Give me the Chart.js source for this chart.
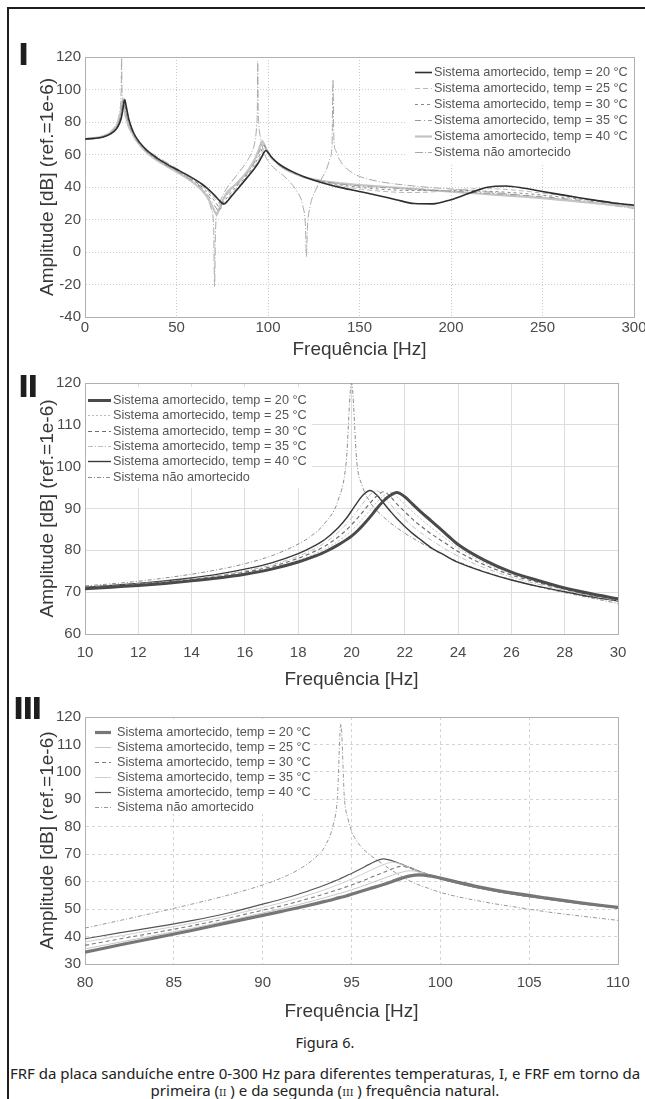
<!DOCTYPE html>
<html lang="pt">
<head>
<meta charset="utf-8">
<title>Figura 6</title>
<script src="https://cdn.jsdelivr.net/npm/chart.js@4.4.1/dist/chart.umd.min.js"></script>
<style>
  html, body { margin: 0; padding: 0; background: #fff; }
  body { position: relative; width: 645px; height: 1099px; overflow: hidden; }
  .frame { position: absolute; left: 7px; top: 7px; width: 700px; height: 1200px;
           border-left: 2px solid #1e1e1e; border-top: 2px solid #1e1e1e; }
  canvas { position: absolute; left: 0; }
  #cI { top: 0; }
  #cII { top: 365px; }
  #cIII { top: 695px; }
  .roman { position: absolute; font: bold 30px "DejaVu Sans", sans-serif; color: #1e1e1e;
           line-height: 30px; letter-spacing: -2px; }
  .cap { position: absolute; left: 0; width: 650px; text-align: center; white-space: nowrap;
         font-family: "Noto Sans", sans-serif; color: #222; }
  .rn { font-family: "DejaVu Serif", serif; font-size: 9.5px; }
</style>
</head>
<body>
<div class="frame"></div>
<canvas id="cI" width="645" height="365"></canvas>
<canvas id="cII" width="645" height="330"></canvas>
<canvas id="cIII" width="645" height="330"></canvas>
<div class="roman" style="left:18px;top:40px">I</div>
<div class="roman" style="left:18px;top:372px">II</div>
<div class="roman" style="left:13px;top:694px">III</div>
<div class="cap" style="top:1032px;font-size:14.5px">Figura 6.</div>
<div class="cap" style="top:1065px;font-size:15px;line-height:17px">FRF da placa sanduíche entre 0-300 Hz para diferentes temperaturas, I, e FRF em torno da<br>primeira (<span class="rn">II</span> ) e da segunda (<span class="rn">III</span> ) frequência natural.</div>

<script>
// values: frequency [Hz], amplitude [dB]
const legendLabels = [
  'Sistema amortecido, temp = 20 °C',
  'Sistema amortecido, temp = 25 °C',
  'Sistema amortecido, temp = 30 °C',
  'Sistema amortecido, temp = 35 °C',
  'Sistema amortecido, temp = 40 °C',
  'Sistema não amortecido'
];

// I : 0-300 Hz
const freqI = [0, 5, 10, 14, 17, 19, 20, 20.7, 21.2, 21.7, 22.5, 24, 26, 28, 32, 36, 40, 45, 50, 55, 60, 64, 67, 70, 72, 73, 74, 75, 76, 78,
  80, 84, 88, 91, 93, 95, 96, 96.8, 97.8, 98.8, 100, 102, 105, 108, 113, 120, 130, 140, 150, 160, 170, 180, 190, 200, 210, 220, 230, 240,
  250, 260, 270, 280, 290, 300];
const ampI_20 = [69.5, 69.9, 70.8, 72.7, 75.5, 79.6, 83.4, 88.0, 91.8, 93.8, 89.7, 81.4, 74.8, 70.4, 64.6, 60.5, 57.3, 53.9, 50.9, 47.9,
  44.7, 41.7, 39.0, 35.8, 33.4, 32.2, 31.0, 30.0, 29.5, 31.5, 34.3, 39.6, 45.0, 49.1, 52.0, 55.4, 57.4, 59.0, 61.2, 62.5, 61.3, 58.3, 55.0,
  52.6, 49.6, 46.2, 42.5, 39.6, 37.2, 34.8, 32.2, 29.8, 29.6, 32.2, 36.2, 39.8, 40.6, 39.2, 37.2, 35.3, 33.4, 31.6, 30.0, 28.8];
const ampI_25 = [69.5, 69.9, 70.9, 72.8, 75.8, 80.3, 84.7, 89.6, 93.0, 92.8, 88.0, 80.6, 74.5, 70.1, 64.3, 60.2, 57.0, 53.6, 50.5, 47.4,
  44.0, 40.8, 37.8, 34.2, 31.6, 30.3, 29.0, 28.2, 29.5, 32.5, 35.5, 40.5, 45.7, 50.1, 53.3, 57.0, 59.3, 61.2, 63.4, 63.5, 61.3, 58.2, 55.0,
  52.4, 49.3, 46.0, 42.8, 40.5, 38.8, 37.6, 36.8, 36.6, 37.0, 38.0, 38.8, 39.0, 38.5, 37.5, 36.2, 34.8, 33.3, 31.8, 30.3, 28.9];
const ampI_30 = [69.5, 70.0, 71.0, 73.0, 76.1, 81.0, 86.1, 91.3, 94.0, 91.1, 86.6, 79.7, 74.1, 69.8, 64.0, 59.9, 56.7, 53.3, 50.2, 47.0,
  43.5, 40.0, 36.8, 32.6, 29.4, 27.6, 26.5, 28.5, 30.8, 34.0, 36.8, 41.5, 46.6, 51.1, 54.6, 58.8, 61.3, 63.4, 65.6, 63.8, 61.3, 58.1, 54.9,
  52.3, 49.2, 46.0, 43.2, 41.2, 39.8, 38.8, 38.1, 37.8, 37.8, 37.9, 37.8, 37.4, 36.8, 36.0, 35.0, 33.8, 32.6, 31.3, 30.0, 28.7];
const ampI_35 = [69.6, 70.0, 71.1, 73.2, 76.5, 81.8, 87.7, 93.3, 93.0, 89.3, 85.0, 78.6, 73.6, 69.3, 63.6, 59.6, 56.4, 53.0, 49.8, 46.5,
  42.8, 39.0, 35.3, 30.0, 26.5, 25.0, 27.0, 29.8, 32.3, 35.8, 38.0, 42.5, 47.5, 52.2, 56.0, 60.9, 63.9, 66.2, 66.3, 63.8, 61.2, 58.0, 54.9,
  52.2, 49.1, 46.0, 43.5, 41.8, 40.6, 39.8, 39.2, 38.6, 38.0, 37.4, 36.8, 36.2, 35.5, 34.8, 34.0, 33.0, 31.9, 30.8, 29.6, 28.4];
const ampI_40 = [69.6, 70.1, 71.2, 73.4, 77.0, 82.6, 89.4, 94.3, 91.3, 87.6, 83.2, 77.1, 72.9, 68.8, 63.2, 59.2, 56.0, 52.6, 49.4, 46.0,
  42.0, 37.8, 33.5, 27.0, 23.0, 25.5, 28.5, 31.2, 33.6, 37.3, 39.2, 43.5, 48.5, 53.5, 57.6, 63.0, 66.3, 68.3, 66.4, 63.8, 61.1, 57.9, 54.8,
  52.0, 49.0, 45.9, 43.6, 42.2, 41.2, 40.4, 39.6, 38.8, 38.0, 37.2, 36.4, 35.6, 34.8, 34.0, 33.1, 32.1, 31.0, 29.9, 28.8, 27.8];
const freqI_und = [0, 5, 10, 14, 17, 18.5, 19.5, 19.8, 20, 20.2, 20.5, 21, 22, 24, 27, 30, 35, 40, 45, 50, 55, 60, 64, 67, 69, 70.3, 70.8,
  71.3, 72.5, 74, 77, 80, 84, 88, 91, 93, 93.8, 94.2, 94.4, 94.6, 95, 96, 98, 100, 104, 108, 112, 116, 119, 120.5, 121, 121.5, 123, 126,
  129, 132, 134, 135, 135.5, 136, 137, 139, 142, 146, 150, 160, 170, 180, 190, 200, 220, 240, 260, 280, 300];
const ampI_und = [69.8, 70.3, 71.5, 74.3, 78.7, 83.5, 92.0, 101.0, 119.5, 101.0, 94.5, 90.0, 83.3, 76.5, 70.0, 66.2, 61.8, 58.2, 54.8,
  51.5, 48.0, 43.8, 39.0, 33.5, 26.5, 15.0, -21.5, 12.0, 26.0, 31.5, 38.5, 43.1, 48.8, 55.0, 61.2, 69.0, 78.0, 90.0, 117.5, 90.5, 78.5,
  70.0, 60.7, 56.1, 51.0, 47.4, 43.0, 37.0, 28.5, 15.0, -3.0, 14.0, 28.0, 38.0, 44.5, 51.0, 58.0, 66.0, 106.0, 70.0, 62.5, 57.0, 52.5,
  48.8, 46.5, 43.5, 41.8, 40.6, 39.6, 38.8, 37.0, 34.8, 32.5, 29.8, 26.8];

// II : around the first natural frequency
const freqII = [10, 11, 12, 13, 14, 15, 16, 17, 18, 18.5, 19, 19.5, 19.8, 20, 20.2, 20.4, 20.7, 20.95, 21.2, 21.45, 21.7, 22, 22.3, 22.6,
  23, 23.5, 24, 25, 26, 27, 28, 29, 30];
const ampII_20 = [70.8, 71.2, 71.6, 72.1, 72.7, 73.4, 74.3, 75.5, 77.2, 78.3, 79.6, 81.3, 82.5, 83.4, 84.5, 85.8, 88.0, 90.0, 91.8, 93.1,
  93.8, 92.8, 91.0, 89.2, 87.0, 84.2, 81.4, 77.6, 74.8, 72.8, 71.0, 69.6, 68.4];
const ampII_25 = [70.9, 71.3, 71.7, 72.2, 72.8, 73.6, 74.5, 75.8, 77.6, 78.8, 80.3, 82.2, 83.6, 84.7, 86.0, 87.4, 89.6, 91.5, 93.0, 93.9,
  92.8, 91.0, 89.2, 87.5, 85.4, 83.0, 80.6, 77.0, 74.5, 72.6, 70.9, 69.5, 68.3];
const ampII_30 = [71.0, 71.4, 71.9, 72.4, 73.0, 73.8, 74.8, 76.1, 78.1, 79.4, 81.0, 83.2, 84.8, 86.1, 87.5, 89.0, 91.3, 93.0, 94.0, 92.9,
  91.1, 89.2, 87.4, 85.8, 83.9, 81.8, 79.7, 76.5, 74.1, 72.3, 70.7, 69.3, 68.2];
const ampII_35 = [71.1, 71.5, 72.0, 72.5, 73.2, 74.0, 75.1, 76.5, 78.6, 80.0, 81.8, 84.3, 86.2, 87.7, 89.3, 91.0, 93.3, 94.2, 93.0, 91.1,
  89.3, 87.4, 85.7, 84.2, 82.4, 80.4, 78.6, 75.8, 73.6, 71.9, 70.4, 69.1, 68.0];
const ampII_40 = [71.2, 71.6, 72.1, 72.7, 73.4, 74.3, 75.5, 77.0, 79.2, 80.7, 82.6, 85.4, 87.6, 89.4, 91.3, 93.0, 94.3, 93.2, 91.3, 89.4,
  87.6, 85.7, 84.0, 82.5, 80.6, 78.8, 77.1, 74.8, 72.9, 71.4, 70.1, 68.9, 67.9];
const ampII_und = [71.5, 72.0, 72.6, 73.4, 74.3, 75.4, 76.8, 78.7, 81.5, 83.5, 86.5, 92.0, 101.0, 120.0, 101.0, 95.5, 91.5, 89.5, 88.0,
  86.6, 85.4, 84.1, 82.9, 81.8, 80.4, 78.8, 77.3, 74.9, 73.0, 71.3, 69.9, 68.6, 67.3];

// III : around the second natural frequency
const freqIII = [80, 82, 84, 86, 88, 90, 91, 92, 93, 93.5, 94, 94.2, 94.4, 94.6, 94.8, 95, 95.5, 96, 96.8, 97.3, 97.8, 98.3, 98.8, 99.5,
  100, 101, 102, 103, 104, 106, 108, 110];
const ampIII_20 = [34.3, 37.0, 39.6, 42.2, 45.0, 47.7, 49.1, 50.5, 52.0, 52.8, 53.6, 54.0, 54.3, 54.6, 55.0, 55.4, 56.4, 57.4, 59.0, 60.1,
  61.2, 62.1, 62.5, 62.0, 61.3, 59.8, 58.3, 57.0, 55.9, 54.0, 52.2, 50.6];
const ampIII_25 = [35.5, 38.0, 40.5, 43.0, 45.7, 48.6, 50.1, 51.6, 53.3, 54.2, 55.1, 55.5, 55.8, 56.2, 56.6, 57.0, 58.1, 59.3, 61.2, 62.4,
  63.4, 64.0, 63.5, 62.2, 61.3, 59.7, 58.2, 56.9, 55.8, 53.9, 52.1, 50.5];
const ampIII_30 = [36.8, 39.2, 41.5, 43.9, 46.6, 49.6, 51.1, 52.8, 54.6, 55.6, 56.6, 57.0, 57.4, 57.9, 58.3, 58.8, 60.0, 61.3, 63.4, 64.7,
  65.6, 64.9, 63.8, 62.3, 61.3, 59.6, 58.1, 56.8, 55.7, 53.8, 52.1, 50.5];
const ampIII_35 = [38.0, 40.3, 42.5, 44.8, 47.5, 50.6, 52.2, 54.0, 56.0, 57.1, 58.3, 58.8, 59.3, 59.8, 60.4, 60.9, 62.4, 63.9, 66.2, 67.1,
  66.3, 65.0, 63.8, 62.3, 61.2, 59.5, 58.0, 56.7, 55.6, 53.7, 52.0, 50.5];
const ampIII_40 = [39.2, 41.4, 43.5, 45.8, 48.5, 51.8, 53.5, 55.4, 57.6, 58.8, 60.1, 60.6, 61.2, 61.8, 62.4, 63.0, 64.6, 66.3, 68.3, 67.6,
  66.4, 65.1, 63.8, 62.2, 61.1, 59.4, 57.9, 56.6, 55.5, 53.6, 51.9, 50.4];
const ampIII_und = [43.1, 45.9, 48.8, 51.8, 55.0, 58.8, 61.2, 64.3, 69.0, 72.8, 81.5, 90.0, 117.5, 90.5, 83.0, 78.5, 73.0, 70.0, 66.2,
  64.0, 62.0, 60.2, 58.8, 57.2, 56.1, 54.5, 53.2, 52.0, 51.0, 49.0, 47.4, 45.9];

Chart.defaults.font.family = "'Liberation Sans', Arial, sans-serif";

// light grey box round the plot area (matlab style)
const plotFrame = {
  id: 'plotFrame',
  beforeDatasetsDraw(chart) {
    const a = chart.chartArea, ctx = chart.ctx;
    ctx.save();
    ctx.strokeStyle = '#b0b0b0';
    ctx.lineWidth = 1;
    ctx.strokeRect(a.left + 0.5, a.top + 0.5, a.right - a.left, a.bottom - a.top);
    ctx.restore();
  }
};

// legend drawn inside the axes on a white patch
const boxLegend = {
  id: 'boxLegend',
  afterDatasetsDraw(chart, args, o) {
    const ctx = chart.ctx;
    ctx.save();
    ctx.fillStyle = '#fff';
    ctx.fillRect(o.bx, o.by, o.bw, o.bh);
    ctx.font = o.textFont;
    ctx.textBaseline = 'middle';
    chart.data.datasets.forEach((ds, i) => {
      const y = Math.round(o.y + i * o.row) + 0.5;
      ctx.strokeStyle = ds.borderColor;
      ctx.lineWidth = ds.borderWidth;
      ctx.setLineDash(ds.borderDash || []);
      ctx.beginPath();
      ctx.moveTo(o.x, y);
      ctx.lineTo(o.x + o.len, y);
      ctx.stroke();
      ctx.setLineDash([]);
      ctx.fillStyle = '#555';
      ctx.fillText(ds.label, o.x + o.len + o.gap, y);
    });
    ctx.restore();
  }
};

function buildSets(freqs, amps, styles) {
  return amps.map((amp, i) => ({
    label: legendLabels[i],
    data: amp.map((v, j) => ({ x: freqs[i][j], y: v })),
    borderColor: styles[i].c,
    borderWidth: styles[i].w,
    borderDash: styles[i].d,
    pointRadius: 0,
    fill: false,
    cubicInterpolationMode: 'monotone'
  }));
}

function buildScales(xr, yr, g) {
  const tickFont = { size: 15 };
  return {
    x: {
      type: 'linear', min: xr[0], max: xr[1],
      ticks: { stepSize: xr[2], color: '#4a4a4a', font: tickFont, padding: g.xPad, maxRotation: 0, autoSkip: false },
      grid: { color: g.grid, drawTicks: false },
      border: { color: '#b0b0b0', dash: g.dash },
      title: { display: true, text: 'Frequência [Hz]', color: '#383838', font: { size: 19, lineHeight: 1 },
               padding: { top: 0, bottom: g.xTitle } },
      afterFit: s => { s.height = g.xH; s.paddingLeft = 0; s.paddingRight = 0; }
    },
    y: {
      min: yr[0], max: yr[1],
      ticks: { stepSize: yr[2], color: '#4a4a4a', font: tickFont, padding: 4 },
      grid: { color: g.grid, drawTicks: false },
      border: { color: '#b0b0b0', dash: g.dash },
      title: { display: true, text: 'Amplitude [dB] (ref.=1e-6)', color: '#383838', font: { size: 19, lineHeight: 1 },
               padding: { top: 38.5, bottom: 0 } },
      afterFit: s => { s.width = 85; }
    }
  };
}

function draw(id, datasets, scales, pad, legend) {
  new Chart(document.getElementById(id), {
    type: 'line',
    data: { datasets },
    options: {
      responsive: false,
      animation: false,
      events: [],
      layout: { padding: pad },
      scales,
      plugins: { legend: { display: false }, tooltip: { enabled: false }, boxLegend: legend }
    },
    plugins: [plotFrame, boxLegend]
  });
}

const stylesI = [
  { c: '#2e2e2e', w: 1.6, d: [] },
  { c: '#b8b8b8', w: 1, d: [5, 3] },
  { c: '#8a8a8a', w: 1, d: [3, 3] },
  { c: '#9a9a9a', w: 1, d: [6, 3, 1, 3] },
  { c: '#c4c4c4', w: 2.2, d: [] },
  { c: '#a8a8a8', w: 1, d: [8, 2, 1, 2] }
];
const stylesII = [
  { c: '#4a4a4a', w: 3, d: [] },
  { c: '#bdbdbd', w: 1, d: [2, 2] },
  { c: '#6e6e6e', w: 1.2, d: [4, 3] },
  { c: '#bdbdbd', w: 1, d: [5, 2, 1, 2] },
  { c: '#3a3a3a', w: 1.4, d: [] },
  { c: '#8d8d8d', w: 1, d: [4, 2, 1, 2] }
];
const stylesIII = [
  { c: '#777777', w: 3.2, d: [] },
  { c: '#c6c6c6', w: 1, d: [] },
  { c: '#7a7a7a', w: 1.1, d: [4, 3] },
  { c: '#cfcfcf', w: 1, d: [] },
  { c: '#555555', w: 1.2, d: [] },
  { c: '#999999', w: 1, d: [4, 2, 1, 2] }
];

draw('cI',
  buildSets([freqI, freqI, freqI, freqI, freqI, freqI_und],
            [ampI_20, ampI_25, ampI_30, ampI_35, ampI_40, ampI_und], stylesI),
  buildScales([0, 300, 50], [-40, 120, 20], { xPad: 2, xH: 48, xTitle: 5.5, grid: '#cccccc', dash: [1, 2] }),
  { top: 57, right: 11, bottom: 0, left: 0 },
  { bx: 405, by: 59, bw: 228, bh: 104, x: 415, len: 17, gap: 2, y: 72, row: 16, textFont: '12.7px "Liberation Sans"' });

draw('cII',
  buildSets([freqII, freqII, freqII, freqII, freqII, freqII],
            [ampII_20, ampII_25, ampII_30, ampII_35, ampII_40, ampII_und], stylesII),
  buildScales([10, 30, 2], [60, 120, 10], { xPad: 10, xH: 61, xTitle: 5.5, grid: '#dedede', dash: [] }),
  { top: 18, right: 27, bottom: 0, left: 0 },
  { bx: 86, by: 22, bw: 226, bh: 101, x: 88, len: 23, gap: 2, y: 35, row: 15.3, textFont: '12.7px "Liberation Sans"' });

draw('cIII',
  buildSets([freqIII, freqIII, freqIII, freqIII, freqIII, freqIII],
            [ampIII_20, ampIII_25, ampIII_30, ampIII_35, ampIII_40, ampIII_und], stylesIII),
  buildScales([80, 110, 5], [30, 120, 10], { xPad: 10, xH: 61, xTitle: 3.5, grid: '#d4d4d4', dash: [3, 3] }),
  { top: 22, right: 27, bottom: 0, left: 0 },
  { bx: 86, by: 24, bw: 228, bh: 95, x: 95, len: 16, gap: 6, y: 37, row: 15, textFont: '12.7px "Liberation Sans"' });
</script>
</body>
</html>
